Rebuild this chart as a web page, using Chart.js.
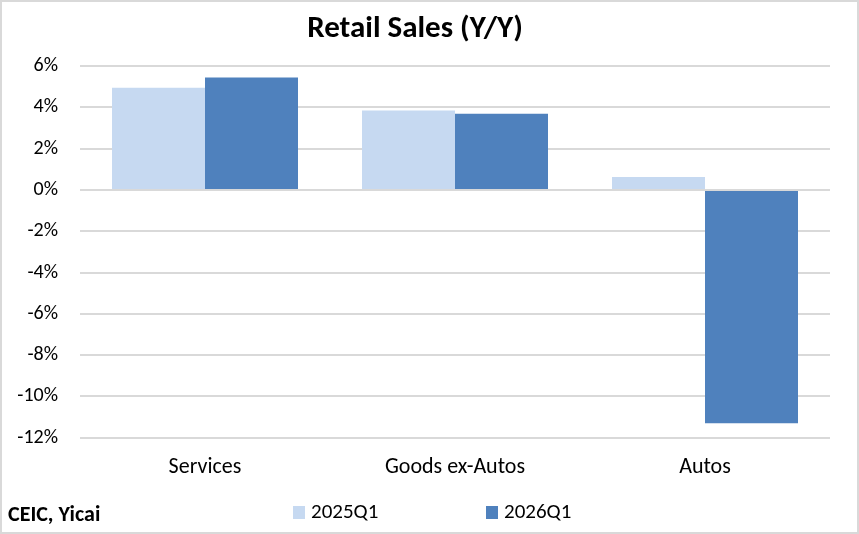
<!DOCTYPE html>
<html>
<head>
<meta charset="utf-8">
<script src="https://cdn.jsdelivr.net/npm/chart.js@4.4.1/dist/chart.umd.min.js"></script>
<style>
  html, body { margin: 0; padding: 0; background: #fff; }
  #wrap { width: 859px; height: 534px; position: relative; }
</style>
</head>
<body>
<div id="wrap"><canvas id="chart"></canvas></div>
<script>
// Chart data
const categories = ['Services', 'Goods ex-Autos', 'Autos'];
const seriesNames = ['2025Q1', '2026Q1'];
const values2025 = [4.95, 3.85, 0.63];
const values2026 = [5.45, 3.7, -11.3];
const yTicks = [-12, -10, -8, -6, -4, -2, 0, 2, 4, 6];
const sourceText = 'CEIC, Yicai';

const FONT = 'Carlito, Lato, "Liberation Sans", sans-serif';
const colors = ['#C6D9F1', '#4F81BD'];

// Legend + source note + outer frame, drawn after the chart
const extras = {
    id: 'extras',
    afterDraw(chart) {
        const ctx = chart.ctx;
        ctx.save();
        // frame
        ctx.strokeStyle = '#d9d9d9';
        ctx.lineWidth = 2;
        ctx.strokeRect(1, 1, chart.width - 2, chart.height - 2);

        // source note
        ctx.fillStyle = '#000';
        ctx.font = 'bold 22px ' + FONT;
        ctx.textBaseline = 'middle';
        ctx.textAlign = 'left';
        ctx.fillText(sourceText, 8, 515);

        // legend
        ctx.font = '21px ' + FONT;
        let x = 293;
        chart.data.datasets.forEach((ds) => {
            ctx.fillStyle = ds.backgroundColor;
            ctx.fillRect(x, 506, 12, 13);
            ctx.fillStyle = '#000';
            ctx.fillText(ds.label, x + 18, 513);
            x += 193;
        });
        ctx.restore();
    }
};

new Chart(document.getElementById('chart'), {
    type: 'bar',
    data: {
        labels: categories,
        datasets: [
            { label: seriesNames[0], data: values2025, backgroundColor: colors[0] },
            { label: seriesNames[1], data: values2026, backgroundColor: colors[1] }
        ]
    },
    options: {
        responsive: true,
        maintainAspectRatio: false,
        animation: false,
        datasets: { bar: { barPercentage: 1, categoryPercentage: 0.744 } },
        layout: { padding: { left: 0, right: 29, top: 0, bottom: 36 } },
        plugins: {
            legend: { display: false },
            tooltip: { enabled: false },
            title: {
                display: true,
                text: 'Retail Sales (Y/Y)',
                color: '#000',
                font: { family: FONT, size: 31, weight: 'bold' },
                padding: { top: 11, bottom: 18 }
            }
        },
        scales: {
            x: {
                grid: { display: false, drawTicks: false },
                border: { display: false },
                ticks: {
                    color: '#000',
                    font: { family: FONT, size: 22 },
                    padding: 17
                }
            },
            y: {
                min: -12,
                max: 6,
                afterBuildTicks: (scale) => { scale.ticks = yTicks.map(v => ({ value: v })); },
                afterFit: (scale) => { scale.width = 80; },
                grid: { color: '#d9d9d9', lineWidth: 2, drawTicks: false },
                border: { display: false },
                ticks: {
                    color: '#000',
                    font: { family: FONT, size: 20 },
                    padding: 22,
                    callback: (v) => v + '%'
                }
            }
        }
    },
    plugins: [extras]
});
</script>
</body>
</html>
